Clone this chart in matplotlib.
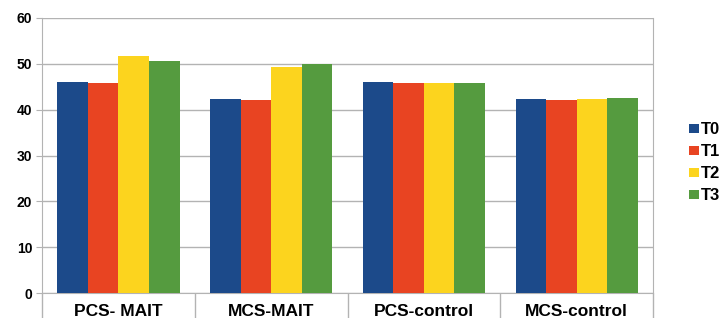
import matplotlib.pyplot as plt
import numpy as np
from matplotlib.ticker import FixedLocator

categorias = ["PCS- MAIT", "MCS-MAIT", "PCS-control", "MCS-control"]
series = ["T0", "T1", "T2", "T3"]
valores_t0 = [46.1, 42.4, 46.1, 42.4]
valores_t1 = [45.9, 42.2, 45.9, 42.2]
valores_t2 = [51.6, 49.3, 45.9, 42.4]
valores_t3 = [50.7, 50.0, 45.9, 42.6]
cores = ["#1c4a8a", "#e84422", "#fcd41e", "#559b3f"]

plt.rcParams["font.family"] = ["Liberation Sans", "DejaVu Sans"]

fig = plt.figure(figsize=(7.21, 3.18), dpi=100)
ax = fig.add_axes([0.0583, 0.0786, 0.8474, 0.8648])

x = np.arange(len(categorias))
largura = 0.2
todos = [valores_t0, valores_t1, valores_t2, valores_t3]
for i, (nome, vals) in enumerate(zip(series, todos)):
    ax.bar(x + (i - 1.5) * largura, vals, width=largura, color=cores[i],
           label=nome, zorder=3)

ax.set_xlim(-0.5, len(categorias) - 0.5)
ax.set_ylim(0, 60)
ax.set_yticks(range(0, 61, 10))
ax.grid(axis="y", color="#b3b3b3", linewidth=1, zorder=0)

cinza = "#b3b3b3"
for lado in ["left", "bottom", "right"]:
    ax.spines[lado].set_color(cinza)
ax.spines["top"].set_visible(False)

ax.set_xticks(x)
ax.set_xticklabels(categorias, fontsize=12.5, fontweight="bold")
ax.tick_params(axis="x", which="major", length=0, pad=8)
ax.xaxis.set_minor_locator(FixedLocator(np.arange(-0.5, len(categorias), 1.0)))
ax.tick_params(axis="x", which="minor", length=19, color=cinza, width=1)
ax.tick_params(axis="y", length=4, color=cinza, labelsize=10, pad=3)
for rotulo in ax.get_yticklabels():
    rotulo.set_fontweight("bold")

fig.legend(loc="center left", bbox_to_anchor=(0.955, 0.488), frameon=False,
           prop={"weight": "bold", "size": 12}, handlelength=0.6,
           handleheight=0.45, handletextpad=0.15, labelspacing=0.42,
           borderpad=0, borderaxespad=0)

fig.savefig("out.png", dpi=100)
